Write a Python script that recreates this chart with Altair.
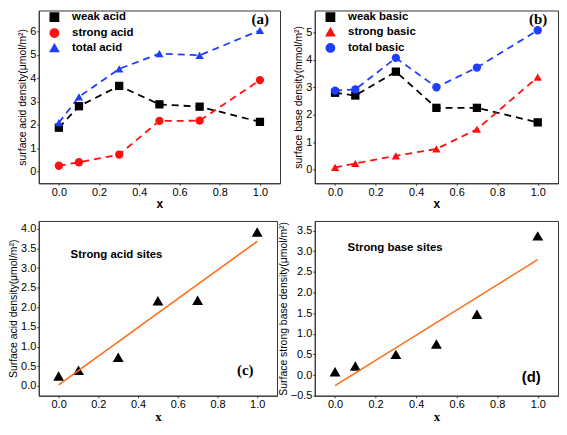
import altair as alt
import pandas as pd

x_vals = [0.0, 0.1, 0.3, 0.5, 0.7, 1.0]
weak_acid = [1.88, 2.80, 3.67, 2.88, 2.78, 2.13]
strong_acid = [0.25, 0.40, 0.73, 2.17, 2.18, 3.92]
total_acid = [2.10, 3.20, 4.40, 5.05, 4.98, 6.05]
weak_basic = [2.80, 2.70, 3.57, 2.25, 2.25, 1.72]
strong_basic = [0.08, 0.22, 0.50, 0.75, 1.47, 3.37]
total_basic = [2.88, 2.92, 4.07, 3.00, 3.72, 5.08]
acid_names = ["weak acid", "strong acid", "total acid"]
basic_names = ["weak basic", "strong basic", "total basic"]
x_ticks = [0.0, 0.2, 0.4, 0.6, 0.8, 1.0]
c_ticks = [0.0, 0.5, 1.0, 1.5, 2.0, 2.5, 3.0, 3.5, 4.0]
d_ticks = [-0.5, 0.0, 0.5, 1.0, 1.5, 2.0, 2.5, 3.0, 3.5]

BLACK = "#000000"
RED = "#ff1010"
BLUE = "#1f3dff"
ORANGE = "#ff6f1a"
SANS = "Liberation Sans"
SERIF = "Liberation Serif"


def long_df(names, series):
    rows = []
    for n, vals in zip(names, series):
        for xv, yv in zip(x_vals, vals):
            rows.append({"x": xv, "y": yv, "series": n})
    return pd.DataFrame(rows)


def x_enc(serif=False):
    return alt.X("x:Q", scale=alt.Scale(domain=[-0.1, 1.1], nice=False, zero=False),
                 axis=alt.Axis(values=x_ticks, format=".1f", title="x", labelOverlap=False,
                               titleFont=SERIF if serif else SANS,
                               titleFontSize=13 if serif else 12))


def label_text(txt, x, y, font, size, align="center"):
    return alt.Chart(pd.DataFrame({"t": [txt]})).mark_text(
        font=font, fontSize=size, fontWeight="bold", color="black", align=align, baseline="middle"
    ).encode(text="t:N", x=alt.value(x), y=alt.value(y))


def legend():
    return alt.Legend(title=None, orient="none", legendX=10, legendY=1, padding=0,
                      labelFont=SANS, labelFontSize=11.5, labelFontWeight="bold",
                      labelColor="black", symbolSize=70, rowPadding=1,
                      symbolOpacity=1, labelOffset=12)


def series_panel(df, names, colors, shapes, ydom, yvals, ytitle, tag, w, h):
    color = alt.Color("series:N", scale=alt.Scale(domain=names, range=colors), legend=legend())
    shape = alt.Shape("series:N", scale=alt.Scale(domain=names, range=shapes), legend=legend())
    y = alt.Y("y:Q", scale=alt.Scale(domain=ydom, nice=False, zero=False),
              axis=alt.Axis(values=yvals, format="d", title=ytitle, labelOverlap=False))
    base = alt.Chart(df)
    lines = base.mark_line(strokeDash=[7, 5], strokeWidth=1.8).encode(
        x=x_enc(), y=y, color=color)
    pts = base.mark_point(filled=True, size=70, opacity=1).encode(
        x=x_enc(), y=y, color=color, shape=shape)
    lab = label_text(tag, w - 20, 9, SERIF, 15)
    return alt.layer(lines, pts, lab).properties(width=w, height=h)


def fit_panel(yvals_data, ydom, yticks, ytitle, note, note_xy, tag, tag_xy, tag_font, w, h):
    df = pd.DataFrame({"x": x_vals, "y": yvals_data})
    y = alt.Y("y:Q", scale=alt.Scale(domain=ydom, nice=False, zero=False),
              axis=alt.Axis(values=yticks, format=".1f", title=ytitle, labelOverlap=False,
                            labelBound=False, labelFlush=False, zindex=2))
    base = alt.Chart(df)
    pts = base.mark_point(shape="triangle-up", filled=True, size=120, color="black", opacity=1).encode(
        x=x_enc(serif=True), y=y)
    fit = base.transform_regression("x", "y").mark_line(color=ORANGE, strokeWidth=1.6).encode(
        x=x_enc(serif=True), y=y)
    t1 = label_text(note, note_xy[0], note_xy[1], SANS, 11.5, align="left")
    t2 = label_text(tag, tag_xy[0], tag_xy[1], tag_font, 15)
    return alt.layer(pts, fit, t1, t2).properties(width=w, height=h)


acid_df = long_df(acid_names, [weak_acid, strong_acid, total_acid])
basic_df = long_df(basic_names, [weak_basic, strong_basic, total_basic])

pa = series_panel(acid_df, acid_names, [BLACK, RED, BLUE], ["square", "circle", "triangle-up"],
                  [-0.5, 6.9], [0, 1, 2, 3, 4, 5, 6], "surface acid density(\u03bcmol/m\u00b2)", "(a)", 243, 174)
pb = series_panel(basic_df, basic_names, [BLACK, RED, BLUE], ["square", "triangle-up", "circle"],
                  [-0.5, 5.8], [0, 1, 2, 3, 4, 5], "surface base density(mmol/m\u00b2)", "(b)", 245, 174)
pc = fit_panel(strong_acid, [-0.25, 4.2], c_ticks,
               "Surface acid density(\u03bcmol/m\u00b2)", "Strong acid sites", (32, 34),
               "(c)", (208, 150), SERIF, 240, 176)
pd_ = fit_panel(strong_basic, [-0.5, 3.73], d_ticks,
                "Surface strong base density(\u03bcmol/m\u00b2)", "Strong base sites", (33, 27),
                "(d)", (218, 157), SANS, 245, 176)

chart = alt.concat(
    pa, pb, pc, pd_, columns=2,
    spacing=alt.RowColnumber(row=38, column=35), bounds="flush"
).resolve_scale(
    color="independent", shape="independent", x="independent", y="independent"
).properties(padding=0).configure_view(
    stroke="#333333", strokeWidth=1
).configure_axis(
    grid=False, domainColor="#333333", tickColor="#333333", tickSize=2,
    labelFont=SANS, labelFontSize=11, labelColor="black", labelPadding=1,
    titleFont=SANS, titleFontSize=10.5, titleFontWeight="normal", titleColor="black", titlePadding=2
).configure_axisX(
    titleFontWeight="bold", titlePadding=1
)

chart.save("out.html", embed_options={"renderer": "svg", "actions": False})
